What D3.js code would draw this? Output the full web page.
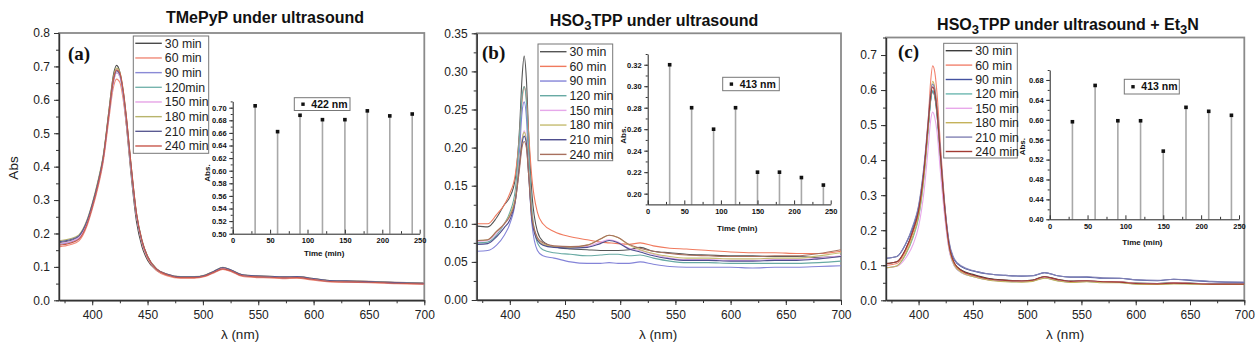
<!DOCTYPE html>
<html>
<head>
<meta charset="utf-8">
<script src="https://cdn.jsdelivr.net/npm/d3@7"></script>
<style>
body { margin: 0; background: #fff; }
svg { display: block; font-family: "Liberation Sans", Arial, sans-serif; }
.main .tick text { font-size: 12px; fill: #222; }
.inset .tick text { font-size: 7.5px; font-weight: bold; fill: #111; }
.tick line { stroke: #333; }
</style>
</head>
<body>
<svg width="1260" height="353"></svg>
<script>
// legend labels (panel a has "120min" without space)
const labelsA = ["30 min", "60 min", "90 min", "120min", "150 min", "180 min", "210 min", "240 min"]
const labelsBC = ["30 min", "60 min", "90 min", "120 min", "150 min", "180 min", "210 min", "240 min"]

// inset: absorbance at the Soret maximum vs sonication time
const times = [30, 60, 90, 120, 150, 180, 210, 240]
const peakA = [0.703, 0.662, 0.688, 0.681, 0.681, 0.695, 0.687, 0.690]
const peakB = [0.320, 0.280, 0.260, 0.280, 0.220, 0.220, 0.215, 0.208]
const peakC = [0.596, 0.669, 0.598, 0.598, 0.537, 0.625, 0.617, 0.609]

// (a) TMePyP spectra
const wlA = [370,380,388,395,400,405,410,415,419,422,425,428,431,435,440,445,450,458,468,480,492,502,510,518,526,535,548,560,572,585,598,612,630,650,675,700]
const absA = [
  [.172,.178,.19,.232,.285,.35,.43,.565,.672,.703,.682,.615,.52,.38,.235,.16,.12,.09,.076,.069,.069,.074,.086,.097,.089,.076,.072,.071,.069,.07,.065,.059,.057,.056,.053,.051],
  [.16,.166,.178,.22,.272,.335,.415,.54,.635,.662,.652,.6,.52,.39,.25,.17,.125,.09,.073,.066,.066,.071,.082,.092,.085,.072,.068,.067,.065,.066,.061,.056,.054,.053,.05,.048],
  [.168,.174,.186,.228,.28,.345,.425,.555,.655,.688,.675,.62,.535,.4,.255,.175,.13,.093,.077,.069,.069,.074,.085,.096,.088,.075,.071,.07,.068,.069,.064,.058,.056,.055,.052,.05],
  [.17,.176,.188,.23,.282,.345,.425,.553,.65,.681,.67,.618,.535,.4,.255,.175,.13,.093,.077,.07,.07,.075,.086,.097,.089,.076,.072,.071,.069,.07,.065,.059,.057,.056,.053,.051],
  [.17,.176,.188,.229,.281,.344,.423,.552,.65,.681,.67,.618,.535,.4,.255,.176,.13,.094,.078,.07,.07,.075,.086,.097,.089,.076,.072,.071,.07,.07,.065,.059,.058,.057,.054,.052],
  [.178,.184,.196,.238,.29,.355,.435,.565,.665,.695,.683,.63,.545,.41,.262,.18,.133,.095,.078,.071,.071,.076,.087,.099,.09,.077,.073,.072,.07,.071,.066,.06,.058,.057,.054,.052],
  [.175,.181,.193,.235,.287,.35,.43,.558,.657,.687,.676,.624,.54,.405,.258,.177,.131,.094,.078,.07,.07,.075,.087,.098,.09,.077,.073,.072,.07,.071,.066,.06,.058,.056,.053,.051],
  [.165,.171,.183,.225,.278,.342,.423,.555,.658,.69,.68,.628,.545,.41,.26,.178,.131,.093,.076,.068,.068,.073,.084,.094,.087,.074,.07,.069,.067,.068,.063,.057,.055,.054,.051,.049]
]

// (b) HSO3TPP spectra
const wlB = [370,380,388,395,400,405,409,411,413,415,417,420,425,430,440,455,470,482,490,498,508,518,530,545,560,580,600,620,640,660,680,700]
const absB = [
  [.097,.096,.108,.125,.135,.16,.23,.29,.32,.29,.22,.14,.09,.077,.07,.067,.066,.065,.065,.065,.066,.069,.064,.062,.06,.059,.058,.058,.057,.057,.056,.057],
  [.10,.10,.112,.125,.14,.165,.22,.26,.28,.265,.22,.16,.115,.10,.09,.083,.079,.076,.075,.074,.073,.075,.071,.068,.067,.065,.063,.062,.062,.061,.061,.064],
  [.064,.065,.072,.085,.10,.13,.20,.245,.26,.24,.18,.10,.065,.058,.055,.05,.048,.048,.049,.048,.048,.05,.047,.044,.043,.043,.043,.042,.043,.043,.044,.045],
  [.075,.076,.085,.10,.115,.145,.22,.265,.28,.26,.2,.12,.075,.066,.062,.06,.058,.059,.06,.06,.058,.059,.055,.051,.049,.049,.048,.048,.048,.048,.049,.051],
  [.077,.078,.088,.10,.11,.135,.185,.21,.222,.21,.17,.11,.08,.073,.07,.069,.07,.076,.079,.076,.068,.065,.06,.055,.053,.053,.052,.052,.053,.053,.055,.058],
  [.078,.079,.09,.10,.112,.135,.185,.21,.22,.21,.17,.11,.08,.073,.07,.069,.072,.08,.085,.082,.072,.066,.061,.057,.055,.055,.054,.054,.055,.055,.058,.062],
  [.073,.074,.083,.095,.105,.13,.18,.205,.215,.205,.165,.105,.078,.072,.069,.068,.069,.074,.078,.075,.067,.063,.058,.054,.052,.052,.051,.051,.052,.052,.054,.057],
  [.078,.079,.09,.10,.11,.13,.175,.2,.208,.2,.165,.11,.082,.075,.071,.07,.072,.08,.085,.082,.073,.068,.064,.061,.059,.058,.057,.057,.058,.058,.061,.066]
]

// (c) HSO3TPP + Et3N spectra
const wlC = [370,380,388,395,400,405,409,411,413,415,417,420,424,428,433,440,450,465,480,495,505,516,528,540,555,570,585,600,620,635,650,670,700]
const absC = [
  [.105,.11,.145,.2,.255,.37,.5,.57,.596,.58,.53,.41,.26,.155,.105,.085,.074,.062,.058,.056,.058,.068,.06,.055,.056,.053,.053,.049,.048,.05,.049,.047,.047],
  [.1,.105,.14,.195,.25,.37,.52,.62,.669,.65,.59,.45,.28,.16,.105,.082,.07,.059,.055,.054,.056,.066,.058,.053,.055,.052,.052,.048,.046,.049,.048,.046,.046],
  [.12,.125,.16,.21,.265,.375,.5,.57,.598,.585,.54,.42,.27,.165,.115,.095,.084,.075,.071,.069,.07,.079,.07,.066,.066,.063,.063,.058,.056,.06,.057,.053,.051],
  [.093,.098,.13,.18,.235,.35,.49,.565,.598,.58,.53,.4,.25,.148,.098,.078,.068,.058,.054,.053,.055,.064,.056,.052,.054,.051,.051,.047,.046,.048,.047,.045,.045],
  [.093,.097,.12,.16,.21,.31,.44,.51,.537,.52,.48,.37,.24,.145,.098,.078,.068,.058,.055,.054,.056,.065,.057,.053,.055,.052,.052,.048,.047,.049,.048,.046,.046],
  [.093,.098,.132,.185,.24,.355,.5,.585,.625,.605,.55,.42,.265,.155,.1,.079,.068,.057,.053,.052,.054,.063,.055,.051,.053,.05,.05,.046,.045,.047,.046,.045,.045],
  [.12,.125,.16,.215,.27,.385,.52,.59,.617,.6,.55,.43,.275,.17,.118,.097,.085,.075,.071,.069,.07,.079,.07,.066,.067,.064,.063,.059,.057,.06,.058,.054,.052],
  [.105,.11,.145,.2,.255,.37,.51,.58,.609,.59,.54,.42,.265,.158,.106,.084,.072,.061,.057,.055,.057,.067,.059,.054,.056,.053,.052,.048,.047,.049,.048,.046,.046]
]

const colorsA = ["#4a4a4a", "#f08a78", "#8a8ad6", "#76b4ae", "#e6a4e6", "#b8b46c", "#5a5a92", "#c8584c"]
const colorsB = ["#555555", "#f07a5e", "#8484d8", "#68aaa4", "#e6a8ea", "#c4bc70", "#4e4e8e", "#a8705e"]
const colorsC = ["#3c3c3c", "#f2826e", "#4452a0", "#6cb8b0", "#e8a8ea", "#c4b25a", "#8282b4", "#a23a32"]

// layout of the three panels (pixels)
const panels = [
  { id: "a", wl: wlA, abs: absA, colors: colorsA, labels: labelsA, peaks: peakA,
    left: 59, right: 424.3, top: 33, bottom: 300.3, ymax: 0.8, ystep: 0.1, yminor: 0.05, fmt: ".1f",
    title: [["TMePyP under ultrasound", 0]], titleX: 265, titleY: 23,
    tag: "(a)", tagX: 68, tagY: 60, xlabX: 240,
    leg: { x: 133.3, y: 36, w: 75.4, h: 117.3, row0: 43.3, step: 14.67 },
    ins: { left: 232.7, right: 419.7, bottom: 233.7, top: 101.4, ymin: 0.5, ymax: 0.71, major: 0.02, minor: 0.01,
           abX: 207, abY: 173, timeY: 252.7, lx: 294.3, ly: 97.7, lw: 55.7, lh: 12.8, nm: "422 nm" } },
  { id: "b", wl: wlB, abs: absB, colors: colorsB, labels: labelsBC, peaks: peakB,
    left: 476.7, right: 841, top: 33.3, bottom: 300, ymax: 0.35, ystep: 0.05, yminor: 0.025, fmt: ".2f",
    title: [["HSO", 0], ["3", 1], ["TPP under ultrasound", 0]], titleX: 654, titleY: 26,
    tag: "(b)", tagX: 482, tagY: 59, xlabX: 658,
    leg: { x: 538, y: 44, w: 74.7, h: 116.7, row0: 51.7, step: 14.67 },
    ins: { left: 647.7, right: 830.7, bottom: 204.4, top: 54, ymin: 0.19, ymax: 0.33, major: 0.02, minor: 0.01,
           abX: 623, abY: 135, timeY: 228, lx: 722.7, ly: 77.3, lw: 56.6, lh: 13.4, nm: "413 nm" } },
  { id: "c", wl: wlC, abs: absC, colors: colorsC, labels: labelsBC, peaks: peakC,
    left: 886, right: 1244.3, top: 37.5, bottom: 300.3, ymax: 0.75, ystep: 0.1, yminor: 0.05, fmt: ".1f",
    title: [["HSO", 0], ["3", 1], ["TPP under ultrasound + Et", 0], ["3", 1], ["N", 0]], titleX: 1068, titleY: 30,
    tag: "(c)", tagX: 898, tagY: 58, xlabX: 1065,
    leg: { x: 943.7, y: 43.3, w: 73.6, h: 114.7, row0: 50.7, step: 14.4 },
    ins: { left: 1049.7, right: 1239, bottom: 219.3, top: 70, ymin: 0.4, ymax: 0.70, major: 0.04, minor: 0.02,
           abX: 1021.7, abY: 146.7, timeY: 241.7, lx: 1124.3, ly: 79.3, lw: 55, lh: 14.7, nm: "413 nm" } }
]

const svg = d3.select("svg")

function steps(a, b, s) {
  return d3.range(Math.round((b - a) / s) + 1).map(i => +(a + i * s).toFixed(4))
}

panels.forEach(p => {
  const g = svg.append("g").attr("class", "main")

  const x = d3.scaleLinear().domain([370, 700]).range([p.left, p.right])
  const y = d3.scaleLinear().domain([0, p.ymax]).range([p.bottom, p.top])

  // title with subscripts
  const t = g.append("text")
    .attr("x", p.titleX).attr("y", p.titleY)
    .attr("text-anchor", "middle")
    .style("font-size", "16px").style("font-weight", "bold").style("fill", "#111")
  let down = 0
  p.title.forEach(([s, sub]) => {
    const dy = sub ? 4 - down : -down
    down = sub ? 4 : 0
    t.append("tspan").attr("dy", dy).style("font-size", sub ? "13px" : "16px").text(s)
  })

  // frame
  g.append("rect")
    .attr("x", p.left).attr("y", p.top)
    .attr("width", p.right - p.left).attr("height", p.bottom - p.top)
    .attr("fill", "none").attr("stroke", "#8a8a8a").attr("stroke-width", 1.8)

  // spectra
  const clipId = "clip" + p.id
  g.append("clipPath").attr("id", clipId).append("rect")
    .attr("x", p.left).attr("y", p.top)
    .attr("width", p.right - p.left).attr("height", p.bottom - p.top)

  const line = d3.line()
    .x((d, i) => x(p.wl[i]))
    .y(d => y(d))
    .curve(d3.curveMonotoneX)

  g.append("g").attr("clip-path", `url(#${clipId})`)
    .selectAll("path.spec")
    .data(p.abs)
    .enter()
    .append("path")
    .attr("class", "spec")
    .attr("d", d => line(d))
    .attr("fill", "none")
    .attr("stroke", (d, i) => p.colors[i])
    .attr("stroke-width", 1.1)

  // x axis: minor then major ticks
  g.append("g").attr("transform", `translate(0,${p.bottom})`)
    .call(d3.axisBottom(x).tickValues(steps(375, 700, 25)).tickSize(3).tickFormat(""))
    .call(a => a.select(".domain").remove())
  g.append("g").attr("transform", `translate(0,${p.bottom})`)
    .call(d3.axisBottom(x).tickValues(steps(400, 700, 50)).tickSize(5).tickSizeOuter(0).tickPadding(5))
    .call(a => a.select(".domain").attr("stroke", "#333").attr("stroke-width", 1.4))

  // y axis
  g.append("g").attr("transform", `translate(${p.left},0)`)
    .call(d3.axisLeft(y).tickValues(steps(0, p.ymax, p.yminor)).tickSize(3).tickFormat(""))
    .call(a => a.select(".domain").remove())
  g.append("g").attr("transform", `translate(${p.left},0)`)
    .call(d3.axisLeft(y).tickValues(steps(0, p.ymax - 0.001, p.ystep)).tickSize(5).tickSizeOuter(0)
      .tickPadding(4).tickFormat(d3.format(p.fmt)))
    .call(a => a.select(".domain").attr("stroke", "#333").attr("stroke-width", 1.4))

  // axis titles
  g.append("text")
    .attr("x", p.xlabX).attr("y", 339)
    .attr("text-anchor", "middle")
    .style("font-size", "13.5px").style("fill", "#222")
    .text("λ (nm)")

  // panel tag
  g.append("text")
    .attr("x", p.tagX).attr("y", p.tagY)
    .style("font-family", "'Liberation Serif', 'Times New Roman', serif")
    .style("font-size", "19px").style("font-weight", "bold").style("fill", "#111")
    .text(p.tag)

  // legend
  const L = p.leg
  g.append("rect")
    .attr("x", L.x).attr("y", L.y).attr("width", L.w).attr("height", L.h)
    .attr("fill", "#fff").attr("stroke", "#777").attr("stroke-width", 1)
  const items = g.selectAll("g.leg")
    .data(p.labels)
    .enter()
    .append("g")
    .attr("class", "leg")
    .attr("transform", (d, i) => `translate(${L.x}, ${L.row0 + i * L.step})`)
  items.append("line")
    .attr("x1", 2).attr("x2", 28.5).attr("y1", 0).attr("y2", 0)
    .attr("stroke", (d, i) => p.colors[i]).attr("stroke-width", 1.4)
  items.append("text")
    .attr("x", 31.5).attr("y", 0).attr("dy", "0.36em")
    .style("font-size", "12.3px").style("fill", "#222")
    .text(d => d)

  // inset
  const I = p.ins
  const gi = svg.append("g").attr("class", "inset")
  const tx = d3.scaleLinear().domain([0, 250]).range([I.left, I.right])
  const ty = d3.scaleLinear().domain([I.ymin, I.ymax]).range([I.bottom, I.top])

  gi.selectAll("line.stem")
    .data(p.peaks)
    .enter()
    .append("line")
    .attr("class", "stem")
    .attr("x1", (d, i) => tx(times[i])).attr("x2", (d, i) => tx(times[i]))
    .attr("y1", ty(I.ymin)).attr("y2", d => ty(d))
    .attr("stroke", "#a8a8a8").attr("stroke-width", 1.6)
  gi.selectAll("rect.pt")
    .data(p.peaks)
    .enter()
    .append("rect")
    .attr("class", "pt")
    .attr("x", (d, i) => tx(times[i]) - 1.8).attr("y", d => ty(d) - 1.8)
    .attr("width", 3.6).attr("height", 3.6)
    .attr("fill", "#111")

  gi.append("g").attr("transform", `translate(0,${I.bottom})`)
    .call(d3.axisBottom(tx).tickValues(steps(25, 225, 50)).tickSize(-2.5).tickFormat(""))
    .call(a => a.select(".domain").remove())
  gi.append("g").attr("transform", `translate(0,${I.bottom})`)
    .call(d3.axisBottom(tx).tickValues(steps(0, 250, 50)).tickSize(-4).tickSizeOuter(0).tickPadding(4))
    .call(a => a.select(".domain").attr("stroke", "#222").attr("stroke-width", 1))
  gi.append("g").attr("transform", `translate(${I.left},0)`)
    .call(d3.axisLeft(ty).tickValues(steps(I.ymin, I.ymax, I.minor)).tickSize(2).tickFormat(""))
    .call(a => a.select(".domain").remove())
  gi.append("g").attr("transform", `translate(${I.left},0)`)
    .call(d3.axisLeft(ty).tickValues(steps(Math.ceil(I.ymin / I.major - 1e-6) * I.major, I.ymax - 0.001, I.major))
      .tickSize(3.5).tickSizeOuter(0).tickPadding(2.5).tickFormat(d3.format(".2f")))
    .call(a => a.select(".domain").attr("stroke", "#222").attr("stroke-width", 1))

  gi.append("text")
    .attr("transform", `translate(${I.abX},${I.abY}) rotate(-90)`)
    .attr("text-anchor", "middle").attr("dy", "0.35em")
    .style("font-size", "8px").style("font-weight", "bold").style("fill", "#111")
    .text("Abs.")
  gi.append("text")
    .attr("x", (I.left + I.right) / 2 - 2).attr("y", I.timeY).attr("dy", "0.35em")
    .attr("text-anchor", "middle")
    .style("font-size", "8px").style("font-weight", "bold").style("fill", "#111")
    .text("Time (min)")

  gi.append("rect")
    .attr("x", I.lx).attr("y", I.ly).attr("width", I.lw).attr("height", I.lh)
    .attr("fill", "#fff").attr("stroke", "#777").attr("stroke-width", 1)
  gi.append("rect")
    .attr("x", I.lx + 7).attr("y", I.ly + I.lh / 2 - 1.6)
    .attr("width", 3.4).attr("height", 3.4).attr("fill", "#111")
  gi.append("text")
    .attr("x", I.lx + 17).attr("y", I.ly + I.lh / 2).attr("dy", "0.36em")
    .style("font-size", "10.5px").style("font-weight", "bold").style("fill", "#111")
    .text(I.nm)
})

// shared y title
svg.append("text")
  .attr("transform", "translate(13,168) rotate(-90)")
  .attr("text-anchor", "middle").attr("dy", "0.35em")
  .style("font-size", "13.5px").style("fill", "#222")
  .text("Abs")
</script>
</body>
</html>
